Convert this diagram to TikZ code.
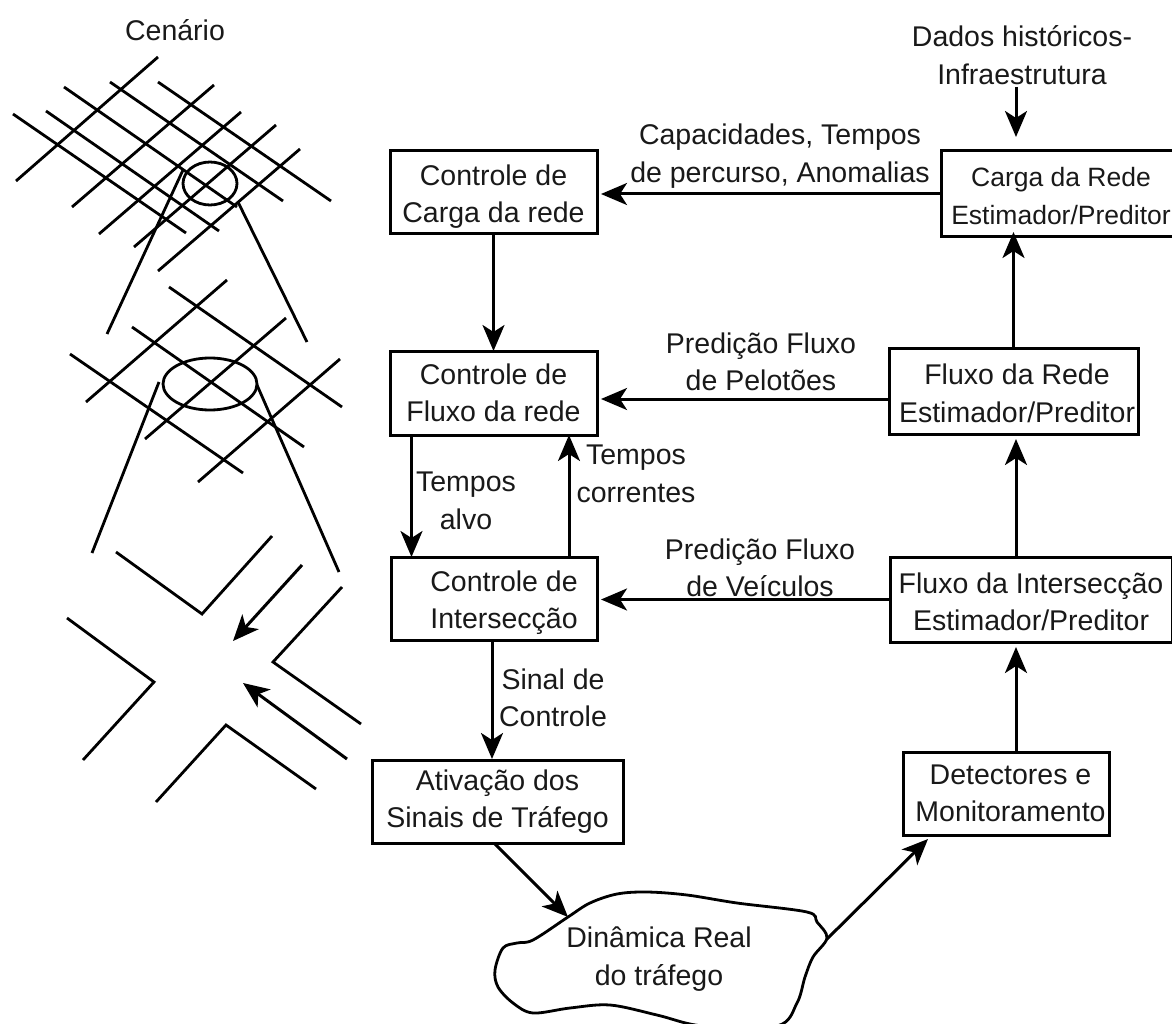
\documentclass[tikz,border=0pt]{standalone}
\usepackage{fontspec}
\setmainfont{Liberation Sans}
\usetikzlibrary{arrows.meta}
\newcommand{\desce}[1]{\rule{0pt}{\dimexpr 21pt+#1\relax}}
\tikzset{every node/.append style={font=\fontsize{28.5}{37.5}\selectfont, align=center, text=black!90}}
\tikzset{caixa/.style={draw, line width=3pt, inner sep=0pt, outer sep=0pt}}
\tikzset{rua/.style={line width=2.8pt}}
\tikzset{seta/.style={line width=3pt, -{Stealth[length=26pt,width=22pt,inset=7pt]}}}

\begin{document}
\begin{tikzpicture}[x=1pt,y=-1pt]
  \useasboundingbox (0,0) rectangle (1172,1024);
  \clip (0,0) rectangle (1172,1024);

  \node (cenario) at (175,30) {Cenário};

  % rede grande
  \foreach \xa/\ya/\xb/\yb in {158/57/16/181, 214/85/72/207, 241/112/99/234, 276/125/134/247, 300/149/158/271,
                               13/114/186/233, 46/111/219/231, 64/87/237/207, 110/82/283/201, 158/82/331/201}{
               \draw[rua] (\xa,\ya)--(\xb,\yb);
};
  \draw[rua] (210,183.5) ellipse (27 and 21.5);
  \draw[rua] (183,170)--(107,334);
  \draw[rua] (238,202)--(307,342);

  % rede media
  \foreach \xa/\ya/\xb/\yb in {227/280/86/402, 286/318/145/439, 340/359/198/482,
                               70/354/243/473, 132/327/304/447, 169/287/342/407}{
               \draw[rua] (\xa,\ya)--(\xb,\yb);
};
  \draw[rua] (210,384) ellipse (47 and 26);
  \draw[rua] (159,382)--(92,553);
  \draw[rua] (257,385)--(339,572);

  % cruzamento
  \draw[rua] (116,552)--(202,614)--(272,536);
  \draw[rua] (342,587)--(273,662)--(361,724);
  \draw[rua] (67,618)--(154,682)--(83,760);
  \draw[rua] (156,802)--(226,725)--(316,789);
  \draw[seta] (302,565)--(233,641);
  \draw[seta] (347,759)--(243,683);

  % blocos
  \node[caixa, minimum width=207pt, minimum height=83pt] (ctrlcarga) at (493.5,192.5) {\desce{8pt}Controle de\\Carga da rede};
  \node[caixa, minimum width=207pt, minimum height=84pt] (ctrlfluxo) at (493.5,393) {Controle de\\Fluxo da rede};
  \node[caixa, minimum width=206pt, minimum height=83pt] (ctrlinter) at (494,598.5) {\desce{8pt}\hspace*{20pt}Controle de\\\hspace*{20pt}Intersecção};
  \node[caixa, minimum width=251pt, minimum height=83pt] (ativacao) at (497.5,801.5) {Ativação dos\\Sinais de Tráfego};
  \node[caixa, minimum width=244pt, minimum height=86pt, font=\fontsize{26.5}{37.5}\selectfont] (cargarede) at (1063,194) {\desce{2pt}Carga da Rede\hspace*{4pt}\\Estimador/Preditor\hspace*{4pt}};
  \node[caixa, minimum width=249pt, minimum height=86pt] (fluxorede) at (1013.5,391) {\desce{4pt}\hspace*{7pt}Fluxo da Rede\\\hspace*{7pt}Estimador/Preditor};
  \node[caixa, minimum width=282pt, minimum height=85pt] (fluxointer) at (1031,599.5) {\desce{4pt}Fluxo da Intersecção\\Estimador/Preditor};
  \node[caixa, minimum width=206pt, minimum height=83pt] (detectores) at (1006,793.5) {\hspace*{9pt}Detectores e\\\hspace*{9pt}Monitoramento};

  % nuvem
  \draw[line width=2.8pt] plot[smooth cycle, tension=0.55] coordinates {(568,917) (590,903) (617,894) (647,892) (687,895) (737,903) (807,912) (817,922) (827,938)
    (813,957) (805,977) (797,1003) (777,1026) (703,1026) (657,1015) (610,1005) (570,1008) (533,1013) (513,1003) (498,987) (495,970) (503,948) (517,943) (533,940)};
  \node (dinamica) at (659,959) {Dinâmica Real\\do tráfego};
  \coordinate (dinamicaent) at (568,917);
  \coordinate (dinamicasai) at (827,939);

  % entrada
  \node (dados) at (1022,55) {Dados históricos-\\Infraestrutura};
  \coordinate (dadosini) at (1016,87);
  \coordinate (dadosfim) at (1016,137);
  \draw[seta] (dadosini)--(dadosfim);

  % conexoes
  \draw[seta] (ctrlcarga.south)--(ctrlfluxo.north);
  \draw[seta, shorten >=4pt] (cargarede.west)--(ctrlcarga.east |- cargarede.west);
  \draw[seta, shorten >=4pt] ([yshift=-8pt]fluxorede.west)--([yshift=-6pt]ctrlfluxo.east);
  \draw[seta, shorten >=4pt] (fluxointer.west)--(ctrlinter.east |- fluxointer.west);
  \draw[seta, shorten >=-5pt] (fluxorede.north)--(fluxorede.north |- cargarede.south);
  \draw[seta, shorten >=5pt] ([xshift=-15pt]fluxointer.north)--([xshift=2.5pt]fluxorede.south);
  \draw[seta, shorten >=5pt] ([xshift=10pt]detectores.north)--([xshift=10pt]detectores.north |- fluxointer.south);
  \draw[seta] ([xshift=-82pt]ctrlfluxo.south)--([xshift=-82pt]ctrlfluxo.south |- ctrlinter.north);
  \draw[seta] ([xshift=75pt]ctrlinter.north)--([xshift=75pt]ctrlinter.north |- ctrlfluxo.south);
  \draw[seta, shorten >=1pt] ([xshift=-2pt]ctrlinter.south)--([xshift=-2pt]ctrlinter.south |- ativacao.north);
  \draw[seta] ([xshift=-2.5pt,yshift=-1pt]ativacao.south)--(dinamicaent);
  \coordinate (detectoresent) at (928,839);
  \draw[seta] (dinamicasai)--(detectoresent);

  % rotulos
  \node (lblcap) at (780,156) {Capacidades, Tempos\\de percurso, Anomalias};
  \node (lblpel) at (761,362) {Predição Fluxo\\de Pelotões};
  \node (lblvei) at (760,568) {Predição Fluxo\\de Veículos};
  \node (lblalvo) at (466,501) {Tempos\\alvo};
  \node (lblcorr) at (636,474) {Tempos\\correntes};
  \node (lblsinal) at (553,698) {Sinal de\\Controle};
\end{tikzpicture}
\end{document}
